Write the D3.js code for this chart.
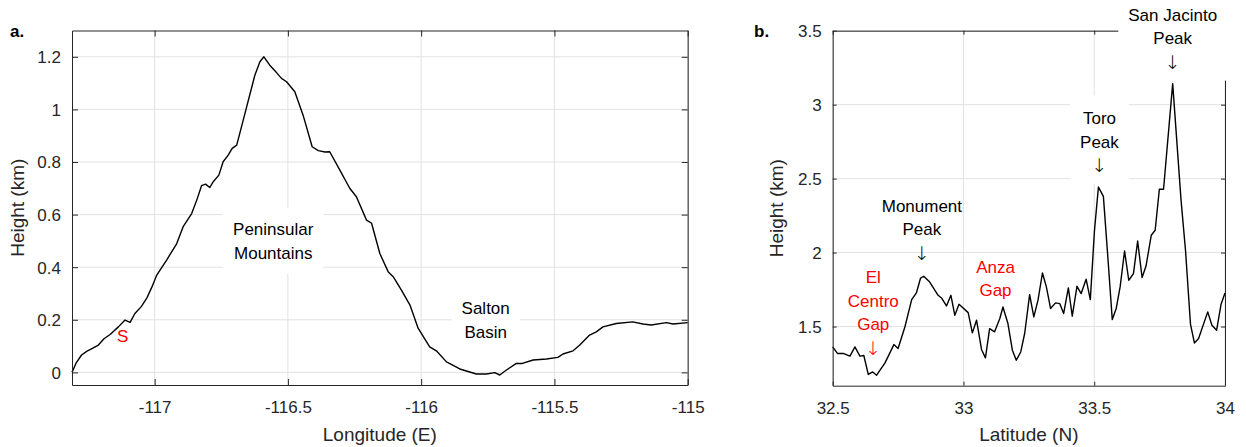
<!DOCTYPE html>
<html>
<head>
<meta charset="utf-8">
<script src="https://cdn.jsdelivr.net/npm/d3@7"></script>
<style>
  body { margin: 0; background: #fff; }
  svg { display: block; font-family: "Liberation Sans", Arial, Helvetica, sans-serif; }
</style>
</head>
<body>
<svg id="chart" width="1246" height="447"></svg>
<script>
// ---------- Data ----------
const lonA = [-117.31, -117.295, -117.274, -117.255, -117.232, -117.211, -117.19, -117.167, -117.136, -117.111,
  -117.092, -117.074, -117.05, -117.03, -117.01, -116.992, -116.955, -116.917, -116.893, -116.861,
  -116.842, -116.824, -116.809, -116.793, -116.78, -116.759, -116.743, -116.724, -116.709, -116.692,
  -116.661, -116.624, -116.605, -116.59, -116.568, -116.542, -116.524, -116.505, -116.474, -116.443,
  -116.409, -116.386, -116.361, -116.343, -116.305, -116.268, -116.243, -116.205, -116.186, -116.155,
  -116.124, -116.105, -116.074, -116.042, -116.011, -115.968, -115.943, -115.905, -115.855, -115.793,
  -115.755, -115.724, -115.705, -115.68, -115.643, -115.62, -115.58, -115.53, -115.487, -115.468,
  -115.43, -115.405, -115.368, -115.343, -115.318, -115.268, -115.206, -115.168, -115.137, -115.08,
  -115.055, -115.0];
const heightA = [0, 0.035, 0.066, 0.08, 0.092, 0.104, 0.128, 0.144, 0.173, 0.199,
  0.19, 0.224, 0.25, 0.281, 0.325, 0.37, 0.427, 0.49, 0.554, 0.604,
  0.655, 0.71, 0.716, 0.703, 0.725, 0.75, 0.801, 0.826, 0.852, 0.864,
  0.985, 1.13, 1.181, 1.2, 1.168, 1.139, 1.118, 1.105, 1.067, 0.978,
  0.858, 0.843, 0.838, 0.839, 0.769, 0.70, 0.668, 0.579, 0.567, 0.452,
  0.383, 0.364, 0.313, 0.256, 0.167, 0.097, 0.082, 0.04, 0.013, -0.006,
  -0.006, -0.001, -0.01, 0.009, 0.034, 0.034, 0.047, 0.051, 0.057, 0.07,
  0.082, 0.104, 0.142, 0.154, 0.173, 0.186, 0.192, 0.184, 0.18, 0.189,
  0.184, 0.189];

const latB = [32.5, 32.518, 32.54, 32.566, 32.585, 32.604, 32.619, 32.636, 32.653, 32.668,
  32.70, 32.734, 32.75, 32.776, 32.802, 32.82, 32.836, 32.848, 32.871, 32.903,
  32.916, 32.935, 32.952, 32.967, 32.983, 33.018, 33.034, 33.05, 33.069, 33.084,
  33.10, 33.119, 33.139, 33.151, 33.17, 33.187, 33.202, 33.219, 33.234, 33.253,
  33.269, 33.285, 33.302, 33.317, 33.333, 33.352, 33.368, 33.383, 33.401, 33.416,
  33.434, 33.45, 33.469, 33.485, 33.501, 33.516, 33.535, 33.552, 33.569, 33.584,
  33.599, 33.616, 33.632, 33.65, 33.666, 33.683, 33.698, 33.718, 33.733, 33.749,
  33.765, 33.80, 33.832, 33.849, 33.868, 33.883, 33.899, 33.934, 33.95, 33.968,
  33.985, 34.0];
const heightB = [1.362, 1.318, 1.318, 1.30, 1.362, 1.30, 1.304, 1.176, 1.193, 1.171,
  1.254, 1.378, 1.351, 1.497, 1.682, 1.727, 1.828, 1.84, 1.801, 1.711,
  1.693, 1.639, 1.711, 1.576, 1.65, 1.594, 1.457, 1.543, 1.345, 1.288,
  1.486, 1.464, 1.554, 1.632, 1.52, 1.34, 1.272, 1.328, 1.453, 1.716,
  1.565, 1.678, 1.862, 1.768, 1.622, 1.66, 1.655, 1.588, 1.761, 1.57,
  1.772, 1.723, 1.82, 1.682, 2.151, 2.443, 2.38, 1.97, 1.547, 1.622,
  1.768, 2.011, 1.813, 1.858, 2.078, 1.831, 1.909, 2.117, 2.151, 2.428,
  2.428, 3.142, 2.353, 2.016, 1.516, 1.389, 1.419, 1.599, 1.509, 1.475,
  1.651, 1.727];

const xTicksA = [-117, -116.5, -116, -115.5, -115];
const yTicksA = [0, 0.2, 0.4, 0.6, 0.8, 1, 1.2];
const xTicksB = [32.5, 33, 33.5, 34];
const yTicksB = [1.5, 2, 2.5, 3, 3.5];

const labelsA = [
  {lines: ["Peninsular", "Mountains"], x: -116.555, y: 0.50, color: "#000", bg: true},
  {lines: ["Salton", "Basin"], x: -115.758, y: 0.199, color: "#000", bg: true},
  {lines: ["S"], x: -117.12, y: 0.139, color: "#ff0000", bg: false}
];
const labelsB = [
  {lines: ["El", "Centro", "Gap", "\u2193"], x: 32.655, y: 1.594, color: "#ff0000", bg: false},
  {lines: ["Monument", "Peak", "\u2193"], x: 32.841, y: 2.157, color: "#000", bg: false},
  {lines: ["Anza", "Gap"], x: 33.1225, y: 1.825, color: "#ff0000", bg: false},
  {lines: ["Toro", "Peak", "\u2193"], x: 33.52, y: 2.75, color: "#000", bg: true},
  {lines: ["San Jacinto", "Peak", "\u2193"], x: 33.80, y: 3.448, color: "#000", bg: true}
];

// ---------- Drawing ----------
const svg = d3.select("#chart");
const AX = "#262626", GRID = "#e2e2e2";
const fmt = d => String(d);

function panel(cfg) {
  const {left, right, top, bottom, xDom, yDom, xTicks, yTicks, xs, ys, tick, letter, xLabel, labels, yLabelX} = cfg;
  const x = d3.scaleLinear().domain(xDom).range([left, right]);
  const y = d3.scaleLinear().domain(yDom).range([bottom, top]);
  const g = svg.append("g");

  // grid
  g.append("g").selectAll("line").data(xTicks).join("line")
    .attr("x1", d => x(d)).attr("x2", d => x(d)).attr("y1", top).attr("y2", bottom)
    .attr("stroke", GRID).attr("stroke-width", 1);
  g.append("g").selectAll("line").data(yTicks).join("line")
    .attr("x1", left).attr("x2", right).attr("y1", d => y(d)).attr("y2", d => y(d))
    .attr("stroke", GRID).attr("stroke-width", 1);

  // line
  const pts = xs.map((v, i) => [v, ys[i]]);
  g.append("path").datum(pts)
    .attr("d", d3.line().x(d => x(d[0])).y(d => y(d[1])))
    .attr("fill", "none").attr("stroke", "#000").attr("stroke-width", 1.4)
    .attr("stroke-linejoin", "round");

  // axes (ticks inward on all four sides)
  const styleAxis = sel => {
    sel.select(".domain").attr("stroke", AX).attr("stroke-width", 1);
    sel.selectAll(".tick line").attr("stroke", AX).attr("stroke-width", 1);
    sel.selectAll("text").attr("fill", AX).attr("font-size", 17)
      .attr("font-family", "Liberation Sans, Arial, Helvetica, sans-serif");
  };
  const bx = g.append("g").attr("transform", `translate(0,${bottom})`)
    .call(d3.axisBottom(x).tickValues(xTicks).tickFormat(fmt).tickSizeInner(-tick).tickSizeOuter(0).tickPadding(14));
  styleAxis(bx);
  bx.selectAll("text").attr("dy", null).attr("y", 28);
  const tx = g.append("g").attr("transform", `translate(0,${top})`)
    .call(d3.axisTop(x).tickValues(xTicks).tickFormat("").tickSizeInner(-tick).tickSizeOuter(0));
  styleAxis(tx);
  const ly = g.append("g").attr("transform", `translate(${left},0)`)
    .call(d3.axisLeft(y).tickValues(yTicks).tickFormat(fmt).tickSizeInner(-tick).tickSizeOuter(0).tickPadding(11));
  styleAxis(ly);
  ly.selectAll("text").attr("x", -11).attr("dy", "0.35em");
  const ry = g.append("g").attr("transform", `translate(${right},0)`)
    .call(d3.axisRight(y).tickValues(yTicks).tickFormat("").tickSizeInner(-tick).tickSizeOuter(0));
  styleAxis(ry);

  // axis labels
  g.append("text").attr("x", (left + right) / 2).attr("y", 441).attr("text-anchor", "middle")
    .attr("font-size", 19).attr("fill", AX).text(xLabel);
  g.append("text").attr("transform", `translate(${yLabelX},${(top + bottom) / 2}) rotate(-90)`)
    .attr("text-anchor", "middle").attr("font-size", 19).attr("fill", AX).text("Height (km)");
  g.append("text").attr("x", letter[0]).attr("y", 37).attr("font-size", 17).attr("font-weight", "bold")
    .attr("fill", "#000").text(letter[1]);

  // annotations
  const LH = 23.5;
  labels.forEach(l => {
    const cx = x(l.x), cy = y(l.y);
    const n = l.lines.length;
    const firstBase = cy - (n - 1) * LH / 2 + 6;
    const ag = svg.append("g");
    const texts = ag.selectAll("text").data(l.lines).join("text")
      .attr("x", cx).attr("y", (d, i) => firstBase + i * LH + (d === "\u2193" ? 1 : 0))
      .attr("text-anchor", "middle")
      .attr("font-size", d => d === "\u2193" ? 19 : 17)
      .attr("font-family", d => d === "\u2193" ? "DejaVu Sans ExtraLight, DejaVu Sans, sans-serif" : null)
      .attr("font-weight", d => d === "\u2193" ? 200 : null)
      .attr("fill", l.color)
      .text(d => d);
    if (l.bg) {
      let w = 0;
      texts.each(function (d) { if (d !== "\u2193") w = Math.max(w, this.getComputedTextLength()); });
      const bw = w + 20, bh = n * LH + 18;
      ag.insert("rect", "text").attr("x", cx - bw / 2).attr("y", cy - bh / 2 - (n > 2 ? 2 : 0))
        .attr("width", bw).attr("height", bh).attr("fill", "#fff");
    }
  });
}

panel({
  left: 72, right: 687.7, top: 30.5, bottom: 385,
  xDom: [-117.31, -115], yDom: [-0.048, 1.3],
  xTicks: xTicksA, yTicks: yTicksA, xs: lonA, ys: heightA, tick: 6,
  letter: [10, "a."], xLabel: "Longitude (E)", labels: labelsA, yLabelX: 24
});
panel({
  left: 832.7, right: 1225, top: 30.7, bottom: 385.7,
  xDom: [32.5, 34], yDom: [1.1, 3.5],
  xTicks: xTicksB, yTicks: yTicksB, xs: latB, ys: heightB, tick: 4,
  letter: [754, "b."], xLabel: "Latitude (N)", labels: labelsB, yLabelX: 783
});
</script>
</body>
</html>
